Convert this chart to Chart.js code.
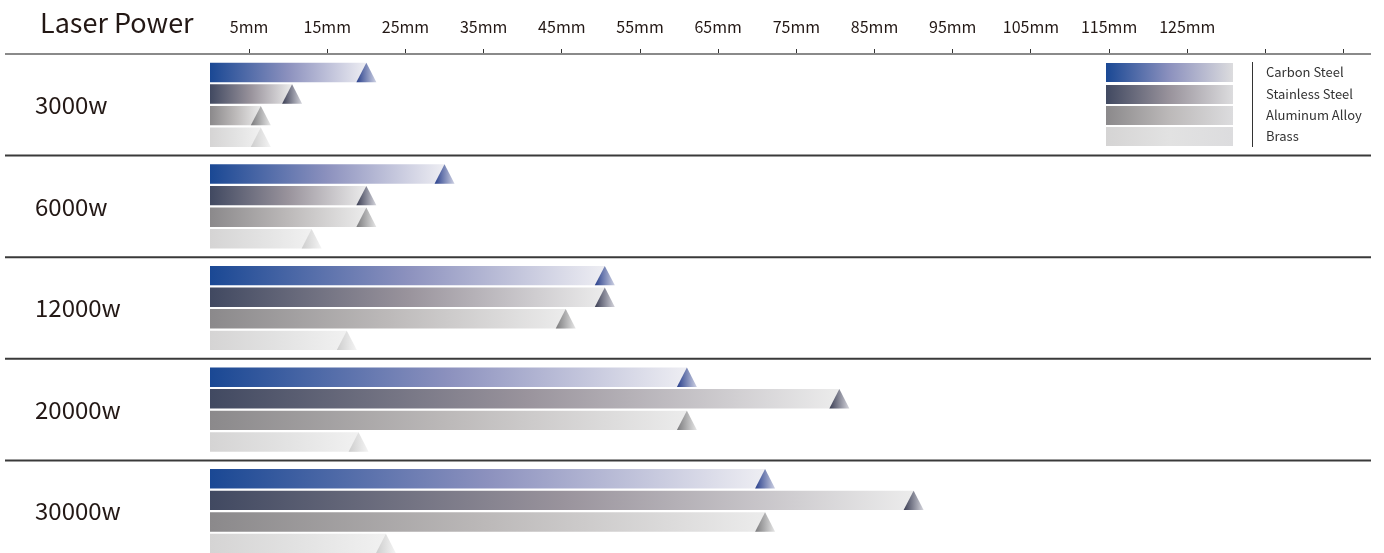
<!DOCTYPE html>
<html>
<head>
<meta charset="utf-8">
<script src="https://cdn.jsdelivr.net/npm/chart.js@4.4.1/dist/chart.umd.min.js"></script>
<style>
  html, body { margin: 0; padding: 0; background: #fff; overflow: hidden; }
  canvas { display: block; }
</style>
</head>
<body>
<canvas id="cutChart" width="1384" height="562" style="width:1384px;height:562px"></canvas>
<script>
// cutting thickness by laser power (mm)
const powers = ['3000w', '6000w', '12000w', '20000w', '30000w'];
const materials = ['Carbon Steel', 'Stainless Steel', 'Aluminum Alloy', 'Brass'];
const carbonSteel = [20, 30, 50.5, 61, 71];
const stainlessSteel = [10.5, 20, 50.5, 80.5, 90];
const aluminumAlloy = [6.5, 20, 45.5, 61, 71];
const brass = [6.5, 13, 17.5, 19, 22.5];
const xTickValues = [5, 15, 25, 35, 45, 55, 65, 75, 85, 95, 105, 115, 125, 135, 145];
const xTickLabels = ['5mm', '15mm', '25mm', '35mm', '45mm', '55mm', '65mm', '75mm', '85mm', '95mm', '105mm', '115mm', '125mm', '', ''];

const FONT = '"Noto Sans CJK SC", "Noto Sans", sans-serif';
const TEXT = '#231815';

// gradient stops for bar body (dark -> light) and for the end triangle
const barStops = [
  ['#1a4894', '#8c91be', '#eeeef3'],
  ['#414961', '#99939c', '#ececec'],
  ['#8b898b', '#bcb9b9', '#ececec'],
  ['#d5d4d4', '#e2e2e2', '#f1f1f1']
];
const triStops = [
  ['#283f8c', '#cdd0e2'],
  ['#3a3d53', '#d5d5dc'],
  ['#7a7a7c', '#e6e6e6'],
  ['#cdcdcd', '#f4f4f4']
];

function makeGrad(ctx, x0, x1, stops) {
  const g = ctx.createLinearGradient(x0, 0, x1, 0);
  stops.forEach((c, i) => g.addColorStop(i / (stops.length - 1), c));
  return g;
}

function barFill(context) {
  const chart = context.chart;
  const xs = chart.scales.x;
  const stops = barStops[context.datasetIndex];
  if (!chart.chartArea || !xs || context.raw == null) return stops[0];
  const x0 = xs.getPixelForValue(0);
  const x1 = xs.getPixelForValue(context.raw);
  return makeGrad(chart.ctx, x0, x1, stops);
}

// group separators across the full width
const separators = {
  id: 'separators',
  beforeDatasetsDraw(chart) {
    const {ctx, chartArea} = chart;
    const band = (chartArea.bottom - chartArea.top) / powers.length;
    ctx.save();
    for (let i = 0; i < powers.length; i++) {
      const yy = chartArea.top + i * band;
      ctx.strokeStyle = i === 0 ? '#8a8a8a' : '#3a3a3a';
      ctx.lineWidth = 2;
      ctx.beginPath();
      ctx.moveTo(5, yy);
      ctx.lineTo(1371, yy);
      ctx.stroke();
    }
    ctx.restore();
  }
};

// triangle cap at the end of each bar
const triangles = {
  id: 'triangles',
  afterDatasetsDraw(chart) {
    const ctx = chart.ctx;
    ctx.save();
    chart.data.datasets.forEach((ds, di) => {
      const meta = chart.getDatasetMeta(di);
      meta.data.forEach(bar => {
        const h = bar.height;
        const top = bar.y - h / 2, bot = bar.y + h / 2;
        ctx.fillStyle = makeGrad(ctx, bar.x - 10, bar.x + 10, triStops[di]);
        ctx.beginPath();
        ctx.moveTo(bar.x, top);
        ctx.lineTo(bar.x + 10, bot);
        ctx.lineTo(bar.x - 10, bot);
        ctx.closePath();
        ctx.fill();
      });
    });
    ctx.restore();
  }
};

// header text and the legend block at top right
const extras = {
  id: 'extras',
  afterDraw(chart) {
    const ctx = chart.ctx;
    ctx.save();
    ctx.fillStyle = TEXT;
    ctx.font = '27px ' + FONT;
    ctx.textBaseline = 'middle';
    ctx.textAlign = 'left';
    ctx.fillText('Laser Power', 40, 23);

    const tops = [63, 85, 106, 127];
    materials.forEach((m, i) => {
      ctx.fillStyle = makeGrad(ctx, 1106, 1233, [barStops[i][0], barStops[i][1], '#dcdcde']);
      ctx.fillRect(1106, tops[i], 127, 19);
      ctx.fillStyle = '#333';
      ctx.font = '13px ' + FONT;
      ctx.fillText(m, 1266, tops[i] + 9.5);
    });
    ctx.strokeStyle = '#333';
    ctx.lineWidth = 1;
    ctx.beginPath();
    ctx.moveTo(1252.5, 62);
    ctx.lineTo(1252.5, 147);
    ctx.stroke();
    ctx.restore();
  }
};

const series = [carbonSteel, stainlessSteel, aluminumAlloy, brass];

new Chart(document.getElementById('cutChart'), {
  type: 'bar',
  data: {
    labels: powers,
    datasets: series.map((vals, i) => ({
      label: materials[i],
      data: vals,
      backgroundColor: barFill,
      borderWidth: 0,
      categoryPercentage: 0.85,
      barPercentage: 0.9
    }))
  },
  options: {
    indexAxis: 'y',
    responsive: false,
    animation: false,
    layout: { padding: { left: 35, right: 13, top: 0, bottom: 0 } },
    plugins: { legend: { display: false }, tooltip: { enabled: false } },
    scales: {
      x: {
        position: 'top',
        min: 0,
        max: 148.5,
        afterBuildTicks: (scale) => { scale.ticks = xTickValues.map(v => ({ value: v })); },
        afterFit: (scale) => { scale.height = 54; },
        ticks: {
          autoSkip: false,
          maxRotation: 0,
          padding: 12,
          color: TEXT,
          font: { family: FONT, size: 16 },
          callback: (v, i) => xTickLabels[i]
        },
        grid: { drawOnChartArea: false, drawTicks: true, tickLength: 5, color: '#333', lineWidth: 1 },
        border: { display: false }
      },
      y: {
        afterFit: (scale) => {
          scale.width = 175;
          scale.paddingTop = 0;
          scale.paddingBottom = 0;
        },
        ticks: {
          crossAlign: 'far',
          color: TEXT,
          font: { family: FONT, size: 24 }
        },
        grid: { display: false },
        border: { display: false }
      }
    }
  },
  plugins: [separators, triangles, extras]
});
</script>
</body>
</html>
